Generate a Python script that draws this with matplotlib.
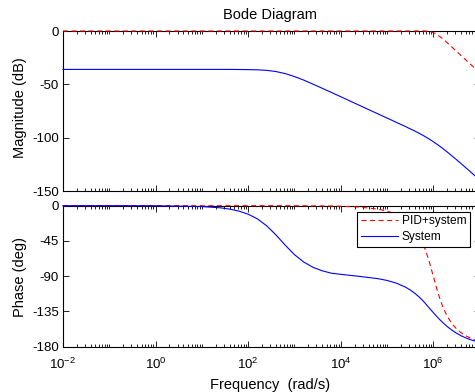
import numpy as np
import matplotlib
matplotlib.use("Agg")
import matplotlib.pyplot as plt
from matplotlib.ticker import FixedLocator, LogFormatterMathtext, NullFormatter

plt.rcParams['font.family'] = ['Liberation Sans', 'DejaVu Sans']
plt.rcParams['axes.unicode_minus'] = False
plt.rcParams['mathtext.default'] = 'regular'

# frequency points (rad/s)
freq = [1e-2, 1e-1, 1, 10, 25.1, 39.8, 63.1, 100, 158.5, 251.2, 398.1, 631.0,
        1e3, 1585, 2512, 3981, 6310, 1e4, 2.512e4, 6.310e4, 1e5, 1.585e5,
        2.512e5, 3.162e5, 3.981e5, 5.012e5, 6.310e5, 7.943e5, 1e6, 1.259e6,
        1.585e6, 1.995e6, 2.512e6, 3.162e6, 3.981e6, 5.012e6, 6.310e6,
        7.943e6, 1e7]

# System: magnitude (dB) and phase (deg)
sys_mag = [-36.0, -36.0, -36.0, -36.0, -36.0, -36.0, -36.1, -36.2, -36.4,
           -36.9, -38.0, -39.9, -42.7, -46.0, -49.8, -53.7, -57.6, -61.6,
           -69.6, -77.6, -81.6, -85.6, -89.6, -91.7, -93.8, -96.0, -98.4,
           -101.0, -103.8, -106.8, -110.0, -113.4, -117.0, -120.6, -124.3,
           -128.1, -131.9, -135.8, -139.7]
sys_phase = [0.0, -0.01, -0.1, -1.1, -2.7, -4.3, -6.9, -10.8, -16.8, -25.6,
             -37.2, -50.3, -62.4, -71.9, -78.6, -83.1, -86.2, -87.6, -90.2,
             -93.1, -95.4, -98.8, -104.0, -107.5, -111.8, -116.8, -122.8,
             -129.8, -136.5, -143.0, -149.0, -154.3, -158.8, -162.7, -166.0,
             -168.7, -171.0, -172.8, -174.3]

# PID+system: magnitude (dB) and phase (deg)
pid_mag = [0.0, 0.0, 0.0, 0.0, 0.0, 0.0, 0.0, 0.0, 0.0, 0.0, 0.0, 0.0, 0.0,
           0.0, 0.0, 0.0, 0.0, 0.0, 0.0, 0.0, 0.0, 0.0, 0.0, 0.0, 0.0, 0.0,
           0.0, -0.2, -1.4, -3.9, -7.2, -11.0, -15.0, -19.0, -23.0, -27.0,
           -31.0, -35.0, -39.0]
pid_phase = [0.0, 0.0, 0.0, 0.0, 0.0, 0.0, 0.0, 0.0, 0.0, 0.0, 0.0, 0.0,
             -0.1, -0.1, -0.2, -0.3, -0.4, -0.7, -1.7, -4.3, -6.9, -11.0,
             -17.8, -22.9, -29.6, -38.8, -51.5, -68.8, -90.0, -111.2, -128.5,
             -141.2, -150.4, -157.1, -162.2, -166.0, -169.0, -171.3, -173.1]

xmajor = [1e-2, 1e0, 1e2, 1e4, 1e6]
xminor = [k * 10.0 ** e for e in range(-2, 7) for k in range(1, 10)
          if k * 10.0 ** e not in xmajor] + [1e7]

fig = plt.figure(figsize=(4.75, 3.92), dpi=100)
left, width = 62.9 / 475, 416.7 / 475
ax1 = fig.add_axes([left, 1 - 191 / 392, width, 160 / 392])
ax2 = fig.add_axes([left, 1 - 346.7 / 392, width, 141 / 392])

dash = (4.5, 3.2)
ax1.plot(freq, pid_mag, 'r--', lw=0.8, dashes=dash, clip_on=False, zorder=3)
ax1.plot(freq, sys_mag, 'b-', lw=0.8, clip_on=False, zorder=3)
ax2.plot(freq, pid_phase, 'r--', lw=0.8, dashes=dash, clip_on=False,
         zorder=3, label='PID+system')
ax2.plot(freq, sys_phase, 'b-', lw=0.8, clip_on=False, zorder=3, label='System')

for ax in (ax1, ax2):
    ax.set_xscale('log')
    ax.set_xlim(1e-2, 1e7)
    ax.xaxis.set_major_locator(FixedLocator(xmajor))
    ax.xaxis.set_minor_locator(FixedLocator(xminor))
    ax.xaxis.set_minor_formatter(NullFormatter())
    ax.tick_params(which='both', direction='in', top=True, right=True,
                   width=0.6, labelsize=9.5, pad=3)
    ax.tick_params(axis='x', which='major', pad=7)
    ax.tick_params(which='major', length=4.5)
    ax.tick_params(which='minor', length=2.5)
    for s in ax.spines.values():
        s.set_linewidth(0.8)

ax1.set_ylim(-150, 0)
ax1.set_yticks([-150, -100, -50, 0])
ax1.xaxis.set_major_formatter(NullFormatter())
ax2.set_ylim(-180, 0)
ax2.set_yticks([-180, -135, -90, -45, 0])
ax2.xaxis.set_major_formatter(LogFormatterMathtext())

leg = ax2.legend(loc='upper right', bbox_to_anchor=(470 / 475, 1 - 211.7 / 392),
                 bbox_transform=fig.transFigure, borderaxespad=0, fontsize=8.6,
                 frameon=True, fancybox=False, framealpha=1, handlelength=3.1,
                 labelspacing=0.35, borderpad=0.3, handletextpad=0.35)
leg.get_frame().set_edgecolor('k')
leg.get_frame().set_linewidth(0.8)

fig.text(270 / 475, 1 - 15.5 / 392, 'Bode Diagram', ha='center', va='center',
         fontsize=10.5)
fig.text(270 / 475, 1 - 385 / 392, 'Frequency  (rad/s)', ha='center',
         va='center', fontsize=10.5)
fig.text(20 / 475, 1 - 108 / 392, 'Magnitude (dB)', ha='center', va='center',
         rotation=90, fontsize=10.5)
fig.text(20 / 475, 1 - 277 / 392, 'Phase (deg)', ha='center', va='center',
         rotation=90, fontsize=10.5)

fig.savefig('out.png', dpi=100)
